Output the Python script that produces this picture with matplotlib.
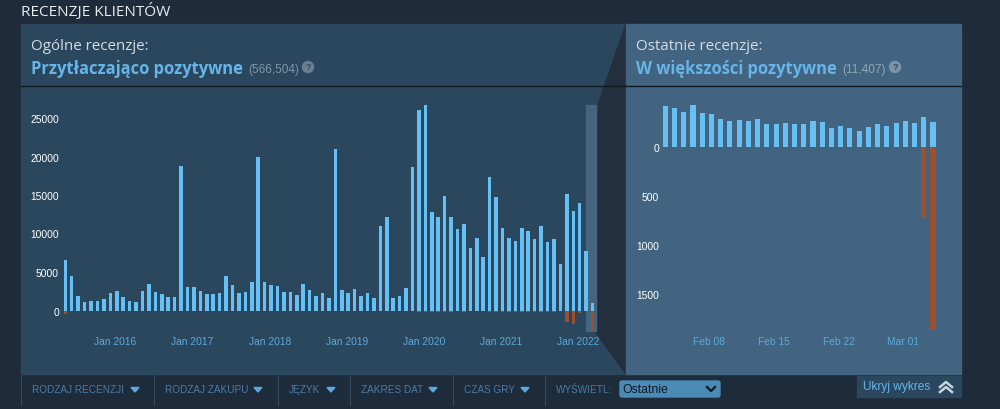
import matplotlib
matplotlib.use("Agg")
import matplotlib.pyplot as plt
import numpy as np
from matplotlib.patches import Circle, FancyBboxPatch, Polygon, Rectangle

positive_all = [6580, 4420, 1900, 1040, 1170, 1170, 1430, 2300, 2470, 1690, 1260, 1130,
                2470, 3380, 2340, 2120, 1780, 1780, 18800, 3030, 2990, 2470, 2080, 2080,
                2300, 4420, 3250, 2210, 2340, 3720, 20000, 3640, 3290, 3200, 2340, 2340,
                1950, 3420, 2680, 1860, 2210, 1650, 21000, 2640, 2300, 2810, 1820, 2300,
                1650, 10950, 12080, 1650, 1900, 2900, 18700, 26000, 26630, 12730, 12080, 14900,
                12080, 10520, 11210, 8180, 9480, 7010, 17360, 14770, 10650, 9400, 9050, 10740,
                10260, 9350, 10910, 8960, 9310, 6060, 15070, 12900, 13940, 7790, 1000]
negative_all = [-450, -60, -30, -20, -20, -20, -20, -30, -30, -20, -20, -20,
                -30, -30, -30, -30, -20, -20, -60, -30, -30, -30, -20, -20,
                -30, -40, -30, -30, -30, -30, -70, -30, -30, -30, -30, -30,
                -30, -30, -30, -20, -30, -20, -70, -30, -30, -30, -30, -30,
                -60, -100, -120, -40, -40, -50, -100, -220, -240, -150, -130, -160,
                -130, -120, -130, -110, -120, -90, -160, -220, -170, -150, -150, -170,
                -170, -150, -170, -150, -160, -100, -1500, -1690, -260, -120, -2680]
all_ticks = ["Jan 2016", "Jan 2017", "Jan 2018", "Jan 2019", "Jan 2020", "Jan 2021", "Jan 2022"]
all_tick_pos = [7.8, 19.8, 31.8, 43.8, 55.8, 67.8, 79.8]
all_yticks = [0, 5000, 10000, 15000, 20000, 25000]

positive_recent = [411, 398, 354, 422, 343, 330, 282, 262, 275, 262, 279, 235, 228, 241, 228,
                   235, 265, 252, 190, 214, 190, 163, 197, 228, 211, 241, 262, 245, 299, 252]
negative_recent = [-6, -8, -6, -8, -6, -6, -6, -5, -6, -5, -10, -5, -5, -5, -5,
                   -5, -6, -5, -5, -5, -4, -4, -5, -10, -5, -5, -6, -5, -730, -1875]
recent_ticks = ["Feb 08", "Feb 15", "Feb 22", "Mar 01"]
recent_tick_pos = [4.77, 11.77, 18.77, 25.77]
recent_yticks = [0, -500, -1000, -1500]

filters = ["RODZAJ RECENZJI", "RODZAJ ZAKUPU", "JĘZYK", "ZAKRES DAT", "CZAS GRY"]

BLUE = "#66c0f4"
RED = "#9c5030"
LABEL = "#5ba8dc"
W, H = 1000, 410
sans = ["Open Sans", "DejaVu Sans"]
arial = ["Liberation Sans", "DejaVu Sans"]

fig = plt.figure(figsize=(W / 100, H / 100), dpi=100, facecolor="#1e2b3b")
bg = fig.add_axes([0, 0, 1, 1])
bg.set_xlim(0, W)
bg.set_ylim(H, 0)
bg.axis("off")

# panels
bg.add_patch(Rectangle((21, 25), 604, 350, color="#2b475e", zorder=1))
bg.add_patch(Polygon([(598, 106), (626, 25), (626, 375), (595, 332)], color="#232f3f", zorder=2))
bg.add_patch(Rectangle((626, 25), 335, 350, color="#426480", zorder=3))
bg.add_patch(Rectangle((586, 106), 10, 226, color="#45657f", zorder=2))
bg.plot([21, 625], [87, 87], color="#101822", lw=1, zorder=4)
bg.plot([626, 961], [87, 87], color="#101822", lw=1, zorder=4)

bg.text(21, 11.5, "RECENZJE KLIENTÓW", color="#e8edf2", fontsize=11.1, family=sans, va="center", zorder=5)
bg.text(31, 46.5, "Ogólne recenzje:", color="#d5dde3", fontsize=10.9, family=sans, va="center", zorder=5)
bg.text(31, 68.5, "Przytłaczająco pozytywne", color="#66b5ea", fontsize=11.9, family=sans,
        weight="bold", va="center", zorder=5)
bg.text(248, 69.5, "(566,504)", color="#8195a6", fontsize=8.5, family=arial, va="center", zorder=5)
bg.text(636, 46.5, "Ostatnie recenzje:", color="#d5dde3", fontsize=10.9, family=sans, va="center", zorder=5)
bg.text(636, 68.5, "W większości pozytywne", color="#66b5ea", fontsize=11.9, family=sans,
        weight="bold", va="center", zorder=5)
bg.text(842, 69.5, "(11,407)", color="#91a5b5", fontsize=8.5, family=arial, va="center", zorder=5)
for cx, col in [(308, "#6b7f92"), (895, "#7d93a6")]:
    bg.add_patch(Circle((cx, 68), 5.5, color=col, zorder=5))
    bg.text(cx, 68, "?", color="#2b475e", fontsize=6.5, weight="bold", family=arial,
            ha="center", va="center", zorder=6)

# filter bar
edges = [21, 154, 278, 350, 453, 545]
for x in edges:
    bg.plot([x, x], [376, 406], color="#34495d", lw=0.8, zorder=2)
for name, x0, arrow in zip(filters, [32, 165, 289, 361, 464], [135, 258, 331, 433, 525]):
    bg.text(x0, 390.5, name, color="#4a7ba5", fontsize=7.2, family=arial, va="center", zorder=5)
    bg.add_patch(Polygon([(arrow - 4, 388.5), (arrow + 4, 388.5), (arrow, 393)], color=LABEL, zorder=5))
bg.text(556, 390.5, "WYŚWIETL:", color="#4a7ba5", fontsize=7.2, family=arial, va="center", zorder=5)
bg.add_patch(FancyBboxPatch((620, 382), 100, 16, boxstyle="round,pad=0,rounding_size=2",
                            color="#4a8bb5", zorder=4))
bg.text(622, 390, "Ostatnie", color="#111820", fontsize=8.8, family=arial, va="center", zorder=5)
bg.plot([707, 711, 715], [388, 392, 388], color="#111820", lw=1.6, zorder=5)
bg.add_patch(Rectangle((857, 377), 104, 21, color="#2b475e", zorder=4))
bg.text(863, 387, "Ukryj wykres", color="#66b5ea", fontsize=8.6, family=arial, va="center", zorder=5)
for dy in (0, 5):
    bg.plot([940, 946, 952], [388 + dy, 383 + dy, 388 + dy], color="#c5d5e0", lw=1.8, zorder=5)


def px_axes(left, top, right, bottom):
    ax = fig.add_axes([left / W, 1 - bottom / H, (right - left) / W, (bottom - top) / H])
    ax.patch.set_alpha(0)
    for side in ax.spines.values():
        side.set_visible(False)
    ax.set_zorder(3)
    return ax


def draw(ax, pos, neg, ticks, tick_pos, yticks, width):
    x = np.arange(len(pos))
    limits = ax.get_xlim(), ax.get_ylim()
    ax.bar(x, neg, width=width, color=RED, linewidth=0)
    ax.bar(x, pos, width=width, color=BLUE, linewidth=0)
    ax.set_xticks(tick_pos, ticks)
    ax.set_yticks(yticks, [str(abs(v)) for v in yticks])
    ax.set_xlim(limits[0])
    ax.set_ylim(limits[1])
    ax.tick_params(axis="both", length=0)
    ax.tick_params(axis="x", colors=LABEL, labelsize=7.4, pad=3.5)
    ax.tick_params(axis="y", colors="white", labelsize=7.4, pad=0)
    for label in ax.get_xticklabels() + ax.get_yticklabels():
        label.set_family(arial)


# overall chart: 0 at y=311.5, 0.0077 px per review, bars 6.43 px apart from x=65.3
ax1 = px_axes(59, 106, 596, 332)
ax1.set_xlim((59 - 65.3) / 6.43, (596 - 65.3) / 6.43)
ax1.set_ylim(-(332 - 311.5) / 0.0077, (311.5 - 106) / 0.0077)
draw(ax1, positive_all, negative_all, all_ticks, all_tick_pos, all_yticks, 0.55)

# recent chart: 0 at y=147.7, 0.098 px per review, bars 9.23 px apart from x=665.3
ax2 = px_axes(659, 100, 940, 332)
ax2.set_xlim((659 - 665.3) / 9.23, (940 - 665.3) / 9.23)
ax2.set_ylim(-(332 - 147.7) / 0.098, (147.7 - 100) / 0.098)
draw(ax2, positive_recent, negative_recent, recent_ticks, recent_tick_pos, recent_yticks, 0.55)

fig.savefig("out.png", dpi=100)
